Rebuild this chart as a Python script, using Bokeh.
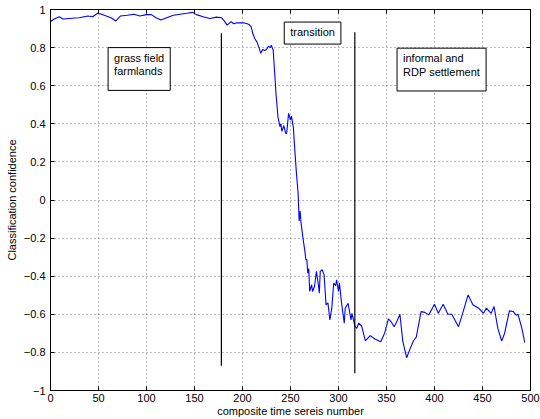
from bokeh.plotting import figure
from bokeh.models import Range1d, FixedTicker, LinearAxis, Label, ColumnDataSource
from bokeh.embed import file_html
from bokeh.resources import INLINE

# ---- data ----
series_x = [0, 4, 9, 13, 20, 25, 30, 35, 39, 44, 49, 53, 56, 63, 68, 73, 80, 87, 93, 100,
            105, 110, 115, 121, 128, 135, 142, 148, 152, 159, 166, 173, 178, 181, 184, 188,
            191, 194, 197, 201, 205, 207, 209, 211, 213, 215, 217, 219, 221, 223, 225, 227,
            229, 230, 232, 235, 237, 239, 240, 241, 243, 245, 246, 248, 250, 251, 253, 254,
            256, 258, 259, 260, 261, 263, 265, 266, 267, 268, 269, 270, 272, 273, 275, 277,
            279, 280, 281, 283, 285, 287, 289, 291, 293, 295, 297, 298, 300, 301, 303, 306,
            307, 310, 313, 314, 317, 319, 321, 324, 328, 333, 338, 344, 348, 352, 355, 358,
            361, 364, 367, 371, 374, 378, 381, 386, 390, 394, 400, 404, 409, 414, 418, 425,
            429, 435, 440, 446, 451, 454, 459, 462, 466, 470, 473, 478, 482, 485, 487, 491, 494]
series_y = [0.937, 0.95, 0.962, 0.95, 0.953, 0.955, 0.957, 0.962, 0.966, 0.962, 0.98, 0.975,
            0.97, 0.957, 0.94, 0.966, 0.97, 0.975, 0.966, 0.973, 0.973, 0.957, 0.945, 0.957,
            0.97, 0.975, 0.98, 0.985, 0.973, 0.962, 0.953, 0.96, 0.957, 0.94, 0.918, 0.936,
            0.925, 0.93, 0.93, 0.93, 0.925, 0.92, 0.909, 0.87, 0.845, 0.83, 0.804, 0.77,
            0.79, 0.785, 0.79, 0.807, 0.80, 0.813, 0.786, 0.55, 0.434, 0.385, 0.40, 0.36,
            0.39, 0.35, 0.35, 0.455, 0.42, 0.44, 0.38, 0.30, 0.153, 0.03, -0.11, -0.058,
            -0.12, -0.20, -0.27, -0.313, -0.313, -0.384, -0.36, -0.48, -0.445, -0.48, -0.454,
            -0.375, -0.445, -0.489, -0.375, -0.366, -0.392, -0.55, -0.54, -0.63, -0.568,
            -0.436, -0.45, -0.419, -0.48, -0.436, -0.533, -0.647, -0.568, -0.542, -0.63,
            -0.595, -0.66, -0.674, -0.647, -0.66, -0.74, -0.712, -0.73, -0.744, -0.70,
            -0.624, -0.64, -0.665, -0.635, -0.60, -0.744, -0.828, -0.788, -0.74, -0.72,
            -0.586, -0.59, -0.603, -0.547, -0.595, -0.547, -0.60, -0.60, -0.665, -0.60,
            -0.498, -0.55, -0.568, -0.595, -0.568, -0.595, -0.559, -0.674, -0.74, -0.70,
            -0.582, -0.585, -0.605, -0.60, -0.674, -0.748]

boundary_x = [178, 317]
boundary_top = [0.875, 0.88]
boundary_bottom = [-0.87, -0.91]

region_labels = ["grass field\nfarmlands", "transition", "informal and\nRDP settlement"]
region_x = [60, 243.5, 361]
region_y = [0.80, 0.934, 0.797]

x_ticks = [0, 50, 100, 150, 200, 250, 300, 350, 400, 450, 500]
y_ticks = [-1, -0.8, -0.6, -0.4, -0.2, 0, 0.2, 0.4, 0.6, 0.8, 1]
y_tick_labels = ["\u22121", "\u22120.8", "\u22120.6", "\u22120.4", "\u22120.2", "0",
                 "0.2", "0.4", "0.6", "0.8", "1"]

x_title = "composite time sereis number"
y_title = "Classification confidence"

FONT = "Liberation Sans"

p = figure(width=540, height=419, output_backend="svg", toolbar_location=None,
           x_range=Range1d(0, 500), y_range=Range1d(-1, 1),
           min_border_left=50, min_border_right=10, min_border_top=9, min_border_bottom=4)
p.background_fill_color = "white"
p.border_fill_color = "white"
p.outline_line_color = "black"
p.outline_line_width = 1

src = ColumnDataSource(dict(x=series_x, y=series_y))
p.line("x", "y", source=src, line_color="#0000ff", line_width=1.1)

bsrc = ColumnDataSource(dict(x=boundary_x, t=boundary_top, b=boundary_bottom))
p.segment(x0="x", y0="b", x1="x", y1="t", source=bsrc, line_color="black", line_width=1.2)

pads = [dict(left=6, right=6, top=4, bottom=13), dict(left=6, right=6, top=4, bottom=6),
        dict(left=6, right=6, top=4, bottom=13)]
for t, lx, ly, pd in zip(region_labels, region_x, region_y, pads):
    p.add_layout(Label(x=lx, y=ly, text=t, anchor="top_left", text_font=FONT,
                       text_font_size="11px", text_color="black", text_line_height=1.15,
                       border_line_color="black", border_line_width=1,
                       background_fill_color="white", padding=pd))

for ax in (p.xaxis[0], p.yaxis[0]):
    ax.major_tick_in = 4
    ax.major_tick_out = 0
    ax.minor_tick_line_color = None
    ax.axis_line_color = "black"
    ax.major_tick_line_color = "black"
    ax.major_label_text_font = FONT
    ax.major_label_text_font_size = "11px"
    ax.major_label_text_color = "black"
    ax.axis_label_text_font = FONT
    ax.axis_label_text_font_size = "11px"
    ax.axis_label_text_font_style = "normal"
    ax.axis_label_text_color = "black"

p.xaxis.ticker = FixedTicker(ticks=x_ticks)
p.yaxis.ticker = FixedTicker(ticks=y_ticks)
p.yaxis.major_label_overrides = {v: s for v, s in zip(y_ticks, y_tick_labels)}
p.xaxis.axis_label = x_title
p.yaxis.axis_label = y_title
p.xaxis.major_label_standoff = 3
p.xaxis.axis_label_standoff = 0
p.yaxis.major_label_standoff = 5
p.yaxis.axis_label_standoff = 3

for loc, tk in (("above", x_ticks), ("right", y_ticks)):
    a = LinearAxis(ticker=FixedTicker(ticks=tk), major_tick_in=4, major_tick_out=0,
                   minor_tick_line_color=None, major_label_text_font_size="1px",
                   major_label_text_color=None,
                   major_label_standoff=0, axis_line_color="black",
                   major_tick_line_color="black")
    p.add_layout(a, loc)

p.xgrid.ticker = FixedTicker(ticks=x_ticks)
p.ygrid.ticker = FixedTicker(ticks=y_ticks)
for g in (p.xgrid[0], p.ygrid[0]):
    g.grid_line_color = "#777777"
    g.grid_line_dash = "1 3"
    g.grid_line_width = 1

open("out.html", "w").write(file_html(p, INLINE))
